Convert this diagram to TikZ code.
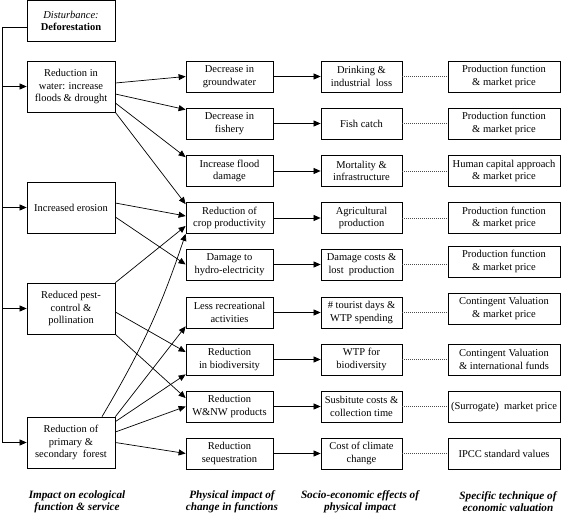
\documentclass[tikz,border=0pt]{standalone}
\usepackage{fontspec}
\setmainfont{Liberation Serif}
\usetikzlibrary{arrows.meta}

\begin{document}
\begin{tikzpicture}[x=1pt, y=-1pt,
    font=\fontsize{10.5}{12.6}\selectfont,
    box/.style={draw, line width=0.75pt, align=center, inner sep=1pt},
    impactbox/.style={box, minimum width=88pt, minimum height=51pt},
    physbox/.style={box, minimum width=87pt, minimum height=31pt},
    socbox/.style={box, minimum width=81pt, minimum height=31pt},
    techbox/.style={box, minimum width=112pt, minimum height=31pt},
    arr/.style={line width=0.7pt, -{Triangle[length=7pt, width=6pt]}},
    link/.style={line width=0.6pt, black!70, dash pattern=on 1pt off 1pt},
    heading/.style={align=center, font=\fontsize{11.2}{11.8}\selectfont\bfseries\itshape}]
    \useasboundingbox (0,0) rectangle (561,514);
    % disturbance
    \node[box, minimum width=88pt, minimum height=41pt] (dist) at (71,21) {\textit{Disturbance:}\\\textbf{Deforestation}};
    % impact on ecological function
    \node[impactbox] (water) at (71,86.5) {Reduction in\\water: increase\\floods \& drought};
    \node[impactbox] (erosion) at (71,207.5) {Increased erosion};
    \node[impactbox] (pest) at (71,308.5) {Reduced pest-\\control \&\\pollination};
    \node[impactbox] (forest) at (71,442.5) {Reduction of\\primary \&\\secondary\ \ forest};
    % physical impact
    \node[physbox] (ground) at (229.5,76.5) {Decrease in\\groundwater};
    \node[physbox] (fishery) at (229.5,123.5) {Decrease in\\fishery};
    \node[physbox] (flood) at (229.5,171) {Increase flood\\damage};
    \node[physbox] (crop) at (229.5,218) {Reduction of\\crop productivity};
    \node[physbox] (hydro) at (229.5,264.5) {Damage to\\hydro-electricity};
    \node[physbox] (recr) at (229.5,312.5) {Less recreational\\activities};
    \node[physbox] (bio) at (229.5,359.5) {Reduction\\in biodiversity};
    \node[physbox] (wnw) at (229.5,406.5) {Reduction\\W\&NW products};
    \node[physbox] (seq) at (229.5,453.5) {Reduction\\sequestration};
    % socio-economic effects
    \node[socbox] (drink) at (361.5,76.5) {Drinking \&\\industrial\ \ loss};
    \node[socbox] (fish) at (361.5,123.5) {Fish catch};
    \node[socbox] (mort) at (361.5,171) {Mortality \&\\infrastructure};
    \node[socbox] (agri) at (361.5,218) {Agricultural\\production};
    \node[socbox] (dmg) at (361.5,264.5) {Damage costs \&\\lost\ \ production};
    \node[socbox] (tour) at (361.5,312.5) {\# tourist days \&\\WTP spending};
    \node[socbox] (wtp) at (361.5,359.5) {WTP for\\biodiversity};
    \node[socbox] (subst) at (361.5,406.5) {Susbitute costs \&\\collection time};
    \node[socbox] (climate) at (361.5,453.5) {Cost of climate\\change};
    % valuation technique
    \node[techbox] (pf1) at (504,76.5) {Production function\\\& market price};
    \node[techbox] (pf2) at (504,123.5) {Production function\\\& market price};
    \node[techbox] (hcap) at (504,171) {Human capital approach\\\& market price};
    \node[techbox] (pf3) at (504,218) {Production function\\\& market price};
    \node[techbox] (pf4) at (504,261.5) {Production function\\\& market price};
    \node[techbox] (cv1) at (504,308.5) {Contingent Valuation\\\& market price};
    \node[techbox] (cv2) at (504,359.5) {Contingent Valuation\\\& international funds};
    \node[techbox] (surr) at (504,406.5) {(Surrogate)\ \ market price};
    \node[techbox] (ipcc) at (504,453.5) {IPCC standard values};
    % trunk from disturbance
    \coordinate (trunk) at (2,27);
    \draw[line width=0.7pt] ([yshift=-6pt]dist.west) -- (trunk);
    \foreach \n in {water,erosion,pest,forest}
        \draw[arr] (trunk) |- (\n.west);
    % water
    \draw[arr] ([yshift=3.5pt]water.east) -- (ground.west);
    \draw[arr] ([yshift=-7.5pt]water.east) -- ([yshift=-2pt]fishery.north west);
    \draw[arr] ([yshift=-16.5pt]water.east) -- ([yshift=-2pt]flood.north west);
    \draw[arr] (water.south east) -- ([yshift=-2pt]crop.north west);
    % erosion
    \draw[arr] ([yshift=4.5pt]erosion.east) -- ([yshift=2pt]crop.west);
    \draw[arr] ([yshift=-9.5pt]erosion.east) -- (hydro.west);
    % pest control
    \draw[arr] (pest.north east) -- ([yshift=-8pt]crop.west);
    \draw[arr] ([yshift=-3.5pt]pest.east) -- ([yshift=7.5pt]bio.west);
    \draw[arr] (pest.south east) -- ([yshift=8.5pt]wnw.west);
    % forest
    \draw[arr] ([xshift=31pt]forest.north) to[bend right=6] (crop.south west);
    \draw[arr] (forest.north east) -- ([yshift=2pt]recr.south west);
    \draw[arr] ([yshift=-5pt]forest.north east) -- ([yshift=1pt]bio.south west);
    \draw[arr] ([yshift=10.5pt]forest.east) -- (wnw.west);
    \draw[arr] (forest.east) -- (seq.west);
    % physical -> socio-economic -> valuation
    \foreach \a/\b/\c in {ground/drink/pf1, fishery/fish/pf2, flood/mort/hcap,
        crop/agri/pf3, hydro/dmg/pf4, recr/tour/cv1, bio/wtp/cv2, wnw/subst/surr, seq/climate/ipcc} {
        \draw[arr] (\a.east) -- (\b.west);
        \draw[link] (\b.east) -- (\b.east -| \c.west);
    }
    % column headings
    \node[heading] (h1) at (77,502) {Impact on ecological\\function \& service};
    \node[heading] (h2) at (232,502) {Physical impact of\\change in functions};
    \node[heading] (h3) at (360,502) {Socio-economic effects of\\physical impact};
    \node[heading] (h4) at (508,502) {Specific technique of\\economic valuation};
\end{tikzpicture}
\end{document}
